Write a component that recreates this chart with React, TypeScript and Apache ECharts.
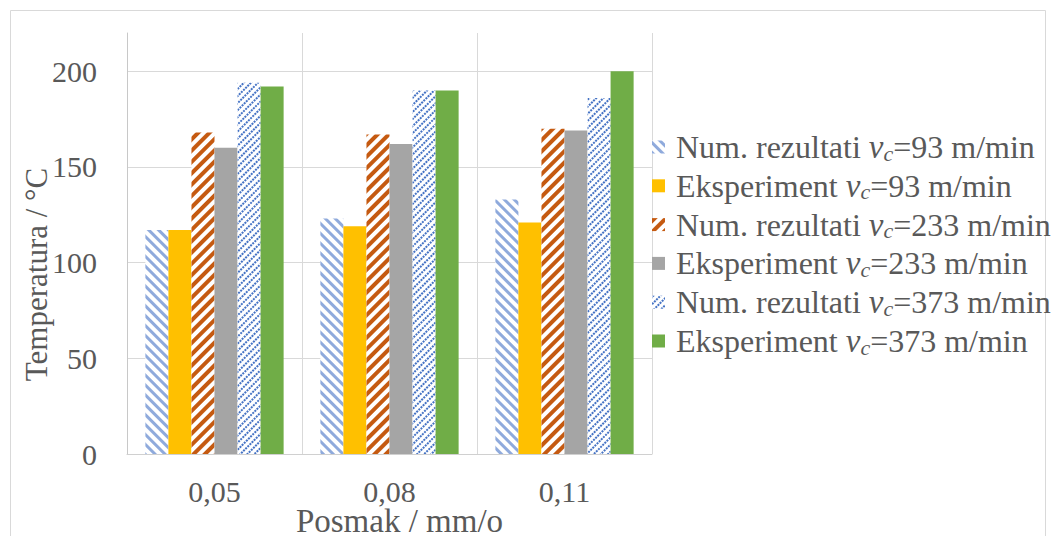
import React, { useEffect, useRef } from "react";
import * as echarts from "echarts";

const categories = ["0,05", "0,08", "0,11"];
const num93 = [117, 123, 133];
const exp93 = [117, 119, 121];
const num233 = [168, 167, 170];
const exp233 = [160, 162, 169];
const num373 = [194, 190, 186];
const exp373 = [192, 190, 200];
const seriesNames = [
  "Num. rezultati vc=93 m/min",
  "Eksperiment vc=93 m/min",
  "Num. rezultati vc=233 m/min",
  "Eksperiment vc=233 m/min",
  "Num. rezultati vc=373 m/min",
  "Eksperiment vc=373 m/min",
];
const yTicks = [0, 50, 100, 150, 200];

const FONT = "'Liberation Serif', 'Times New Roman', serif";
const TXT = "#595959";

export default function App() {
  const ref = useRef<HTMLDivElement>(null);
  useEffect(() => {
    const chart = echarts.init(ref.current!, null, { renderer: "svg" });
    const datas = [num93, exp93, num233, exp233, num373, exp373];
    const styles: any[] = [
      {
        color: "#ffffff",
        decal: {
          symbol: "rect",
          dashArrayX: [1, 0],
          dashArrayY: [3, 4],
          rotation: Math.PI / 4,
          color: "#8faadc",
        },
      },
      { color: "#ffc000" },
      {
        color: "#ffffff",
        decal: {
          symbol: "rect",
          dashArrayX: [1, 0],
          dashArrayY: [4, 4],
          rotation: -Math.PI / 4,
          color: "#c55a11",
        },
      },
      { color: "#a5a5a5" },
      {
        color: "#ffffff",
        decal: {
          symbol: "rect",
          dashArrayX: [2, 1],
          dashArrayY: [1.5, 2.5],
          rotation: -Math.PI / 4,
          color: "#4472c4",
        },
      },
      { color: "#70ad47" },
    ];
    chart.setOption({
      animation: false,
      textStyle: { fontFamily: FONT },
      graphic: [
        {
          type: "rect",
          shape: { x: 10.5, y: 10.5, width: 1035, height: 560 },
          style: { fill: "none", stroke: "#d9d9d9", lineWidth: 1 },
          silent: true,
        },
      ],
      grid: {
        left: 127,
        right: 404,
        top: 33,
        bottom: 82,
        containLabel: false,
        outerBoundsMode: "none",
      },
      legend: {
        orient: "vertical",
        left: 652,
        top: 130,
        padding: 0,
        itemWidth: 13,
        itemHeight: 13,
        itemGap: 4.8,
        icon: "rect",
        formatter: (name: string) => {
          const m = name.match(/^(.*) vc=(.*)$/);
          if (!m) return name;
          return `{t|${m[1]} }{v|v}{c|c}{t|=${m[2]}}`;
        },
        textStyle: {
          fontFamily: FONT,
          color: TXT,
          fontSize: 32,
          padding: [0, 0, 0, 6],
          rich: {
            t: { fontFamily: FONT, color: TXT, fontSize: 32, lineHeight: 35 },
            v: { fontFamily: FONT, color: TXT, fontSize: 33, fontStyle: "italic", lineHeight: 35 },
            c: {
              fontFamily: FONT,
              color: TXT,
              fontSize: 22,
              fontStyle: "italic",
              lineHeight: 35,
              padding: [12, 0, 0, 0],
            },
          },
        },
        data: seriesNames,
      },
      xAxis: {
        type: "category",
        data: categories,
        name: "Posmak / mm/o",
        nameLocation: "middle",
        nameGap: 52,
        nameMoveOverlap: false,
        nameTextStyle: { fontFamily: FONT, color: TXT, fontSize: 33, lineHeight: 30, padding: [0, 0, 0, 20] },
        axisLine: { show: true, lineStyle: { color: "#d0d0d0", width: 1 } },
        axisTick: { show: false },
        axisLabel: { fontFamily: FONT, color: TXT, fontSize: 30, lineHeight: 26, margin: 24 },
        splitLine: { show: true, lineStyle: { color: "#d9d9d9", width: 1 } },
      },
      yAxis: {
        type: "value",
        min: 0,
        max: 220,
        interval: 50,
        name: "Temperatura / °C",
        nameLocation: "middle",
        nameGap: 75,
        nameMoveOverlap: false,
        nameTextStyle: { fontFamily: FONT, color: TXT, fontSize: 31, padding: [0, 62, 0, 0] },
        axisLine: { show: true, lineStyle: { color: "#c8c8c8", width: 1 } },
        axisTick: { show: false },
        axisLabel: {
          fontFamily: FONT,
          color: TXT,
          fontSize: 30,
          margin: 30,
          showMaxLabel: false,
          formatter: (v: number) => (yTicks.includes(v) ? String(v) : ""),
        },
        splitLine: { show: true, showMaxLine: false, lineStyle: { color: "#d9d9d9", width: 1 } },
      },
      series: seriesNames.map((n, i) => ({
        name: n,
        type: "bar",
        data: datas[i],
        barGap: "0%",
        barCategoryGap: "21%",
        itemStyle: styles[i],
      })),
    });
    return () => chart.dispose();
  }, []);
  return (
    <div
      ref={ref}
      style={{ position: "fixed", left: 0, top: 0, width: 1056, height: 536, background: "#fff" }}
    />
  );
}
